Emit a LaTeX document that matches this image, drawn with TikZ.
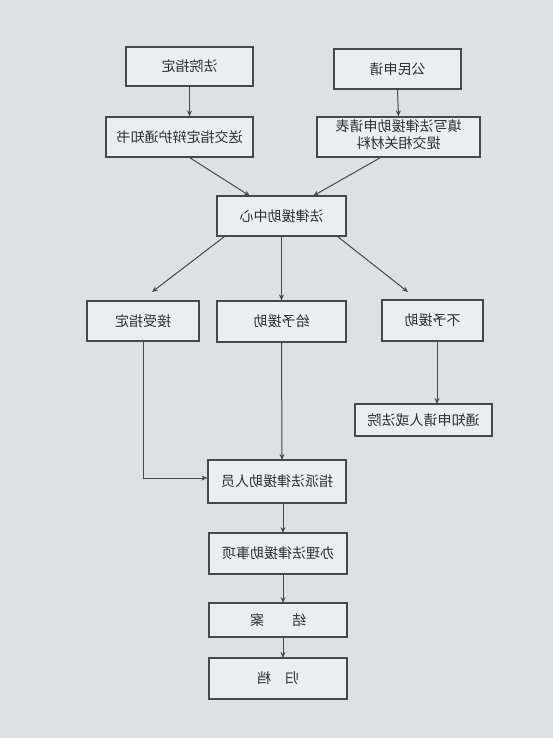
\documentclass[tikz,border=0pt]{standalone}
\usepackage{graphicx}
\usepackage{fontspec}
\newfontfamily\cjk{Noto Sans CJK SC}
\usetikzlibrary{arrows.meta}
\definecolor{paper}{RGB}{222,225,226}
\definecolor{ink}{RGB}{70,72,74}
\definecolor{txt}{RGB}{45,47,50}
\newcommand\mr[1]{\reflectbox{#1}}
\tikzset{
  box/.style={draw=ink, line width=1.1pt, fill=paper!60!white, inner sep=0pt,
    font=\cjk\fontsize{14}{16.5}\selectfont, text=txt},
  conn/.style={draw=ink, line width=1pt, -{Stealth[length=6pt,width=5pt]}}
}
\begin{document}
\begin{tikzpicture}[x=1pt,y=-1pt]
\fill[paper] (0,0) rectangle (553,738);
\useasboundingbox (0,0) rectangle (553,738);
\node[box, minimum width=127, minimum height=39] (A) at (189.5,66.5) {\mr{法院指定}};
\node[box, minimum width=127, minimum height=40] (B) at (397.5,69) {\mr{公民申请}};
\node[box, minimum width=147, minimum height=40] (C) at (179.5,137) {\mr{送交指定辩护通知书}};
\node[box, minimum width=163, minimum height=40] (D) at (398.5,137) {\mr{\begin{tabular}{@{}c@{}}填写法律援助申请表\\提交相关材料\end{tabular}}};
\node[box, minimum width=129, minimum height=40] (E) at (281.5,216) {\mr{法律援助中心}};
\node[box, minimum width=112, minimum height=40] (F) at (143,321) {\mr{接受指定}};
\node[box, minimum width=129, minimum height=41] (G) at (281.5,321.5) {\mr{给予援助}};
\node[box, minimum width=101, minimum height=41] (H) at (432.5,320.5) {\mr{不予援助}};
\node[box, minimum width=137, minimum height=32] (I) at (423.5,420) {\mr{通知申请人或法院}};
\node[box, minimum width=138, minimum height=43] (J) at (277,481.5) {\mr{指派法律援助人员}};
\node[box, minimum width=138, minimum height=41] (K) at (278,553.5) {\mr{办理法律援助事项}};
\node[box, minimum width=138, minimum height=34] (L) at (278,620) {\mr{结\hspace{2em}案}};
\node[box, minimum width=138, minimum height=41] (M) at (278,678.5) {\mr{归\hspace{1em}档}};
\coordinate (Ee1) at (152,292);
\coordinate (Ee3) at (408,292);
\draw[conn] (A.south) -- (A.south |- C.north);
\draw[conn] (B.south) -- (D.north);
\draw[conn] (C.south) ++(10,0) -- (250,196);
\draw[conn] (D.south) ++(-18,0) -- (313,196);
\draw[conn] (E.south west) ++(8,0) -- (Ee1);
\draw[conn] (E.south) -- (G.north);
\draw[conn] (E.south east) ++(-9,0) -- (Ee3);
\draw[conn] (H.south) ++(4.5,0) -- (437,404);
\draw[conn] (F.south) -- (143,478) -- (J.west |- 0,478);
\draw[conn] (G.south) -- (282,460);
\draw[conn] (J.south) ++(6,0) -- (283,533);
\draw[conn] (K.south) ++(5,0) -- (283,603);
\draw[conn] (L.south) ++(5,0) -- (283,658);
\end{tikzpicture}
\end{document}
